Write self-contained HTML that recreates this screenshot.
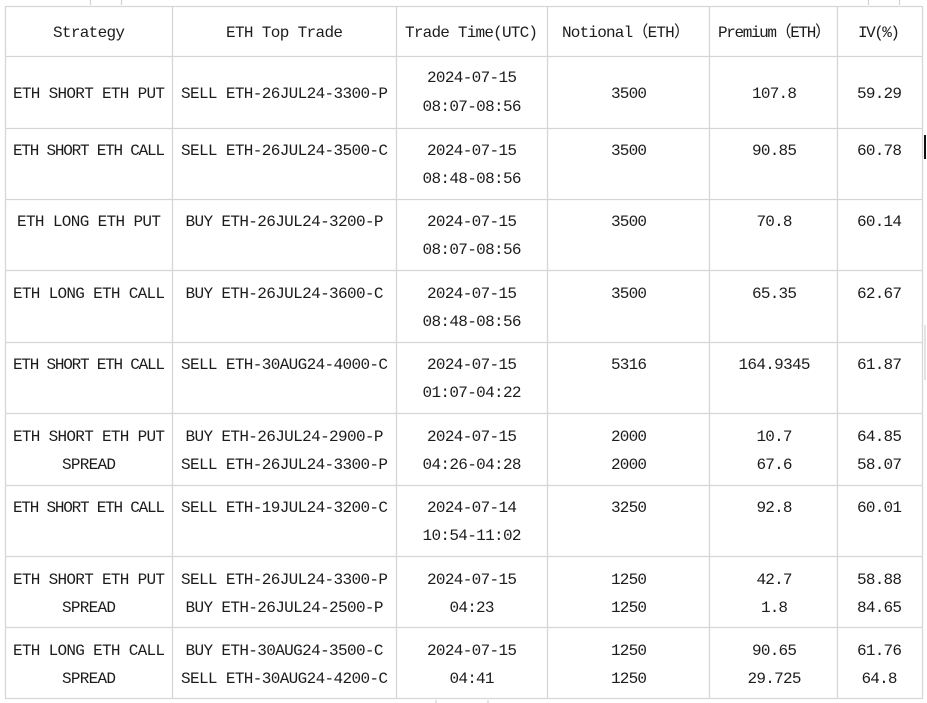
<!DOCTYPE html>
<html><head><meta charset="utf-8"><style>
html,body{margin:0;padding:0;background:#fff;}
svg{display:block;}
text{font-family:"Liberation Mono","Noto Sans CJK SC",monospace;font-size:16px;fill:#1c1c1c;}
</style></head><body>
<svg width="927" height="703" viewBox="0 0 927 703" xmlns="http://www.w3.org/2000/svg">
<rect width="927" height="703" fill="#fff"/>
<g stroke="#d6d6d6" stroke-width="1.3" fill="none">
<line x1="90.5" y1="0" x2="90.5" y2="5"/><line x1="121.5" y1="0" x2="121.5" y2="5"/>
<line x1="868.5" y1="0" x2="868.5" y2="5"/><line x1="899.5" y1="0" x2="899.5" y2="5"/>
<line x1="5" y1="6.5" x2="922" y2="6.5"/>
<line x1="5" y1="56.5" x2="922" y2="56.5"/>
<line x1="5" y1="128.5" x2="922" y2="128.5"/>
<line x1="5" y1="199.5" x2="922" y2="199.5"/>
<line x1="5" y1="270.5" x2="922" y2="270.5"/>
<line x1="5" y1="342.5" x2="922" y2="342.5"/>
<line x1="5" y1="413.5" x2="922" y2="413.5"/>
<line x1="5" y1="485.5" x2="922" y2="485.5"/>
<line x1="5" y1="556.5" x2="922" y2="556.5"/>
<line x1="5" y1="627.5" x2="922" y2="627.5"/>
<line x1="5" y1="698.5" x2="922" y2="698.5"/>
<line x1="5.5" y1="6" x2="5.5" y2="699"/>
<line x1="172.5" y1="6" x2="172.5" y2="699"/>
<line x1="396.5" y1="6" x2="396.5" y2="699"/>
<line x1="547.5" y1="6" x2="547.5" y2="699"/>
<line x1="709.5" y1="6" x2="709.5" y2="699"/>
<line x1="837.5" y1="6" x2="837.5" y2="699"/>
<line x1="922.5" y1="6" x2="922.5" y2="699"/>
<line x1="925" y1="325" x2="925" y2="380"/>
<line x1="436" y1="700" x2="436" y2="703"/><line x1="488" y1="700" x2="488" y2="703"/>
</g>
<rect x="924" y="135" width="2" height="24" fill="#111"/>
<g text-anchor="middle">
<!-- header -->
<text x="89" y="37" textLength="72" lengthAdjust="spacing">Strategy</text>
<text x="284.5" y="37" textLength="117" lengthAdjust="spacing">ETH Top Trade</text>
<text x="471.5" y="37" textLength="133" lengthAdjust="spacing">Trade Time(UTC)</text>
<text x="626" y="37" textLength="128" lengthAdjust="spacing">Notional（ETH）</text>
<text x="774.5" y="37" textLength="113" lengthAdjust="spacing">Premium（ETH）</text>
<text x="879" y="37" textLength="42" lengthAdjust="spacing">IV(%)</text>
<!-- row1 -->
<text x="89" y="98" textLength="152" lengthAdjust="spacing">ETH SHORT ETH PUT</text>
<text x="284.5" y="98" textLength="207" lengthAdjust="spacing">SELL ETH-26JUL24-3300-P</text>
<text x="472" y="82" textLength="90" lengthAdjust="spacing">2024-07-15</text>
<text x="472" y="111" textLength="99" lengthAdjust="spacing">08:07-08:56</text>
<text x="629" y="98" textLength="36" lengthAdjust="spacing">3500</text>
<text x="774.5" y="98" textLength="45" lengthAdjust="spacing">107.8</text>
<text x="879.5" y="98" textLength="45" lengthAdjust="spacing">59.29</text>
<!-- row2 -->
<text x="89" y="155" textLength="152" lengthAdjust="spacing">ETH SHORT ETH CALL</text>
<text x="284.5" y="155" textLength="207" lengthAdjust="spacing">SELL ETH-26JUL24-3500-C</text>
<text x="472" y="155" textLength="90" lengthAdjust="spacing">2024-07-15</text>
<text x="472" y="183" textLength="99" lengthAdjust="spacing">08:48-08:56</text>
<text x="629" y="155" textLength="36" lengthAdjust="spacing">3500</text>
<text x="774.5" y="155" textLength="45" lengthAdjust="spacing">90.85</text>
<text x="879.5" y="155" textLength="45" lengthAdjust="spacing">60.78</text>
<!-- row3 -->
<text x="89" y="226" textLength="144" lengthAdjust="spacing">ETH LONG ETH PUT</text>
<text x="284.5" y="226" textLength="198" lengthAdjust="spacing">BUY ETH-26JUL24-3200-P</text>
<text x="472" y="226" textLength="90" lengthAdjust="spacing">2024-07-15</text>
<text x="472" y="254" textLength="99" lengthAdjust="spacing">08:07-08:56</text>
<text x="629" y="226" textLength="36" lengthAdjust="spacing">3500</text>
<text x="774.5" y="226" textLength="36" lengthAdjust="spacing">70.8</text>
<text x="879.5" y="226" textLength="45" lengthAdjust="spacing">60.14</text>
<!-- row4 -->
<text x="89" y="298" textLength="152" lengthAdjust="spacing">ETH LONG ETH CALL</text>
<text x="284.5" y="298" textLength="198" lengthAdjust="spacing">BUY ETH-26JUL24-3600-C</text>
<text x="472" y="298" textLength="90" lengthAdjust="spacing">2024-07-15</text>
<text x="472" y="326" textLength="99" lengthAdjust="spacing">08:48-08:56</text>
<text x="629" y="298" textLength="36" lengthAdjust="spacing">3500</text>
<text x="774.5" y="298" textLength="45" lengthAdjust="spacing">65.35</text>
<text x="879.5" y="298" textLength="45" lengthAdjust="spacing">62.67</text>
<!-- row5 -->
<text x="89" y="369" textLength="152" lengthAdjust="spacing">ETH SHORT ETH CALL</text>
<text x="284.5" y="369" textLength="207" lengthAdjust="spacing">SELL ETH-30AUG24-4000-C</text>
<text x="472" y="369" textLength="90" lengthAdjust="spacing">2024-07-15</text>
<text x="472" y="397" textLength="99" lengthAdjust="spacing">01:07-04:22</text>
<text x="629" y="369" textLength="36" lengthAdjust="spacing">5316</text>
<text x="774.5" y="369" textLength="72" lengthAdjust="spacing">164.9345</text>
<text x="879.5" y="369" textLength="45" lengthAdjust="spacing">61.87</text>
<!-- row6 -->
<text x="89" y="441" textLength="152" lengthAdjust="spacing">ETH SHORT ETH PUT</text>
<text x="89" y="469" textLength="54" lengthAdjust="spacing">SPREAD</text>
<text x="284.5" y="441" textLength="198" lengthAdjust="spacing">BUY ETH-26JUL24-2900-P</text>
<text x="284.5" y="469" textLength="207" lengthAdjust="spacing">SELL ETH-26JUL24-3300-P</text>
<text x="472" y="441" textLength="90" lengthAdjust="spacing">2024-07-15</text>
<text x="472" y="469" textLength="99" lengthAdjust="spacing">04:26-04:28</text>
<text x="629" y="441" textLength="36" lengthAdjust="spacing">2000</text>
<text x="629" y="469" textLength="36" lengthAdjust="spacing">2000</text>
<text x="774.5" y="441" textLength="36" lengthAdjust="spacing">10.7</text>
<text x="774.5" y="469" textLength="36" lengthAdjust="spacing">67.6</text>
<text x="879.5" y="441" textLength="45" lengthAdjust="spacing">64.85</text>
<text x="879.5" y="469" textLength="45" lengthAdjust="spacing">58.07</text>
<!-- row7 -->
<text x="89" y="512" textLength="152" lengthAdjust="spacing">ETH SHORT ETH CALL</text>
<text x="284.5" y="512" textLength="207" lengthAdjust="spacing">SELL ETH-19JUL24-3200-C</text>
<text x="472" y="512" textLength="90" lengthAdjust="spacing">2024-07-14</text>
<text x="472" y="540" textLength="99" lengthAdjust="spacing">10:54-11:02</text>
<text x="629" y="512" textLength="36" lengthAdjust="spacing">3250</text>
<text x="774.5" y="512" textLength="36" lengthAdjust="spacing">92.8</text>
<text x="879.5" y="512" textLength="45" lengthAdjust="spacing">60.01</text>
<!-- row8 -->
<text x="89" y="584" textLength="152" lengthAdjust="spacing">ETH SHORT ETH PUT</text>
<text x="89" y="612" textLength="54" lengthAdjust="spacing">SPREAD</text>
<text x="284.5" y="584" textLength="207" lengthAdjust="spacing">SELL ETH-26JUL24-3300-P</text>
<text x="284.5" y="612" textLength="198" lengthAdjust="spacing">BUY ETH-26JUL24-2500-P</text>
<text x="472" y="584" textLength="90" lengthAdjust="spacing">2024-07-15</text>
<text x="472" y="612" textLength="45" lengthAdjust="spacing">04:23</text>
<text x="629" y="584" textLength="36" lengthAdjust="spacing">1250</text>
<text x="629" y="612" textLength="36" lengthAdjust="spacing">1250</text>
<text x="774.5" y="584" textLength="36" lengthAdjust="spacing">42.7</text>
<text x="774.5" y="612" textLength="27" lengthAdjust="spacing">1.8</text>
<text x="879.5" y="584" textLength="45" lengthAdjust="spacing">58.88</text>
<text x="879.5" y="612" textLength="45" lengthAdjust="spacing">84.65</text>
<!-- row9 -->
<text x="89" y="655" textLength="152" lengthAdjust="spacing">ETH LONG ETH CALL</text>
<text x="89" y="683" textLength="54" lengthAdjust="spacing">SPREAD</text>
<text x="284.5" y="655" textLength="198" lengthAdjust="spacing">BUY ETH-30AUG24-3500-C</text>
<text x="284.5" y="683" textLength="207" lengthAdjust="spacing">SELL ETH-30AUG24-4200-C</text>
<text x="472" y="655" textLength="90" lengthAdjust="spacing">2024-07-15</text>
<text x="472" y="683" textLength="45" lengthAdjust="spacing">04:41</text>
<text x="629" y="655" textLength="36" lengthAdjust="spacing">1250</text>
<text x="629" y="683" textLength="36" lengthAdjust="spacing">1250</text>
<text x="774.5" y="655" textLength="45" lengthAdjust="spacing">90.65</text>
<text x="774.5" y="683" textLength="54" lengthAdjust="spacing">29.725</text>
<text x="879.5" y="655" textLength="45" lengthAdjust="spacing">61.76</text>
<text x="879.5" y="683" textLength="36" lengthAdjust="spacing">64.8</text>
</g>
</svg>
</body></html>
